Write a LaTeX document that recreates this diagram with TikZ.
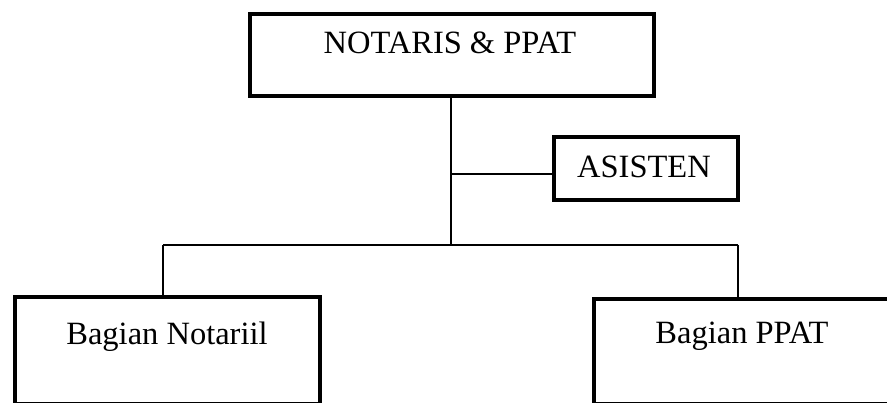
\documentclass[tikz,border=0pt]{standalone}
\usepackage{fontspec}
\setmainfont{Liberation Serif}
\begin{document}
\begin{tikzpicture}[x=1pt,y=-1pt,
  orgbox/.style={draw=black,line width=4pt,rectangle,inner sep=0pt,fill=white},
  lbl/.style={font=\fontsize{32.5}{37}\selectfont,inner sep=0pt,anchor=center},
  conn/.style={draw=black,line width=1.7pt}]
\useasboundingbox (0,0) rectangle (887,403);
\clip (0,0) rectangle (887,403);
% boxes
\node[orgbox,minimum width=404pt,minimum height=82pt] (top) at (452,55) {};
\node[lbl] (toptxt) at (450,43) {NOTARIS \& PPAT};
\node[orgbox,minimum width=184pt,minimum height=63pt] (asis) at (646,168.5) {};
\node[lbl] (asistxt) at (644,167) {ASISTEN};
\node[orgbox,minimum width=305pt,minimum height=107pt] (left) at (167.5,350.5) {};
\node[lbl] (lefttxt) at (167,337) {Bagian Notariil};
\node[orgbox,minimum width=298pt,minimum height=105pt] (right) at (743,351.5) {};
\node[lbl] (righttxt) at (742,336) {Bagian PPAT};
% connector points
\coordinate (aj) at (451,174);
\coordinate (bus) at (451,245);
\coordinate (lb) at (163,245);
\coordinate (rb) at (738,245);
% connectors
\draw[conn] (top.south -| bus) -- (bus);
\draw[conn] (aj) -- (aj -| asis.west);
\draw[conn] (lb) -- (rb);
\draw[conn] (lb) -- (lb |- left.north);
\draw[conn] (rb) -- (rb |- right.north);
\end{tikzpicture}
\end{document}
